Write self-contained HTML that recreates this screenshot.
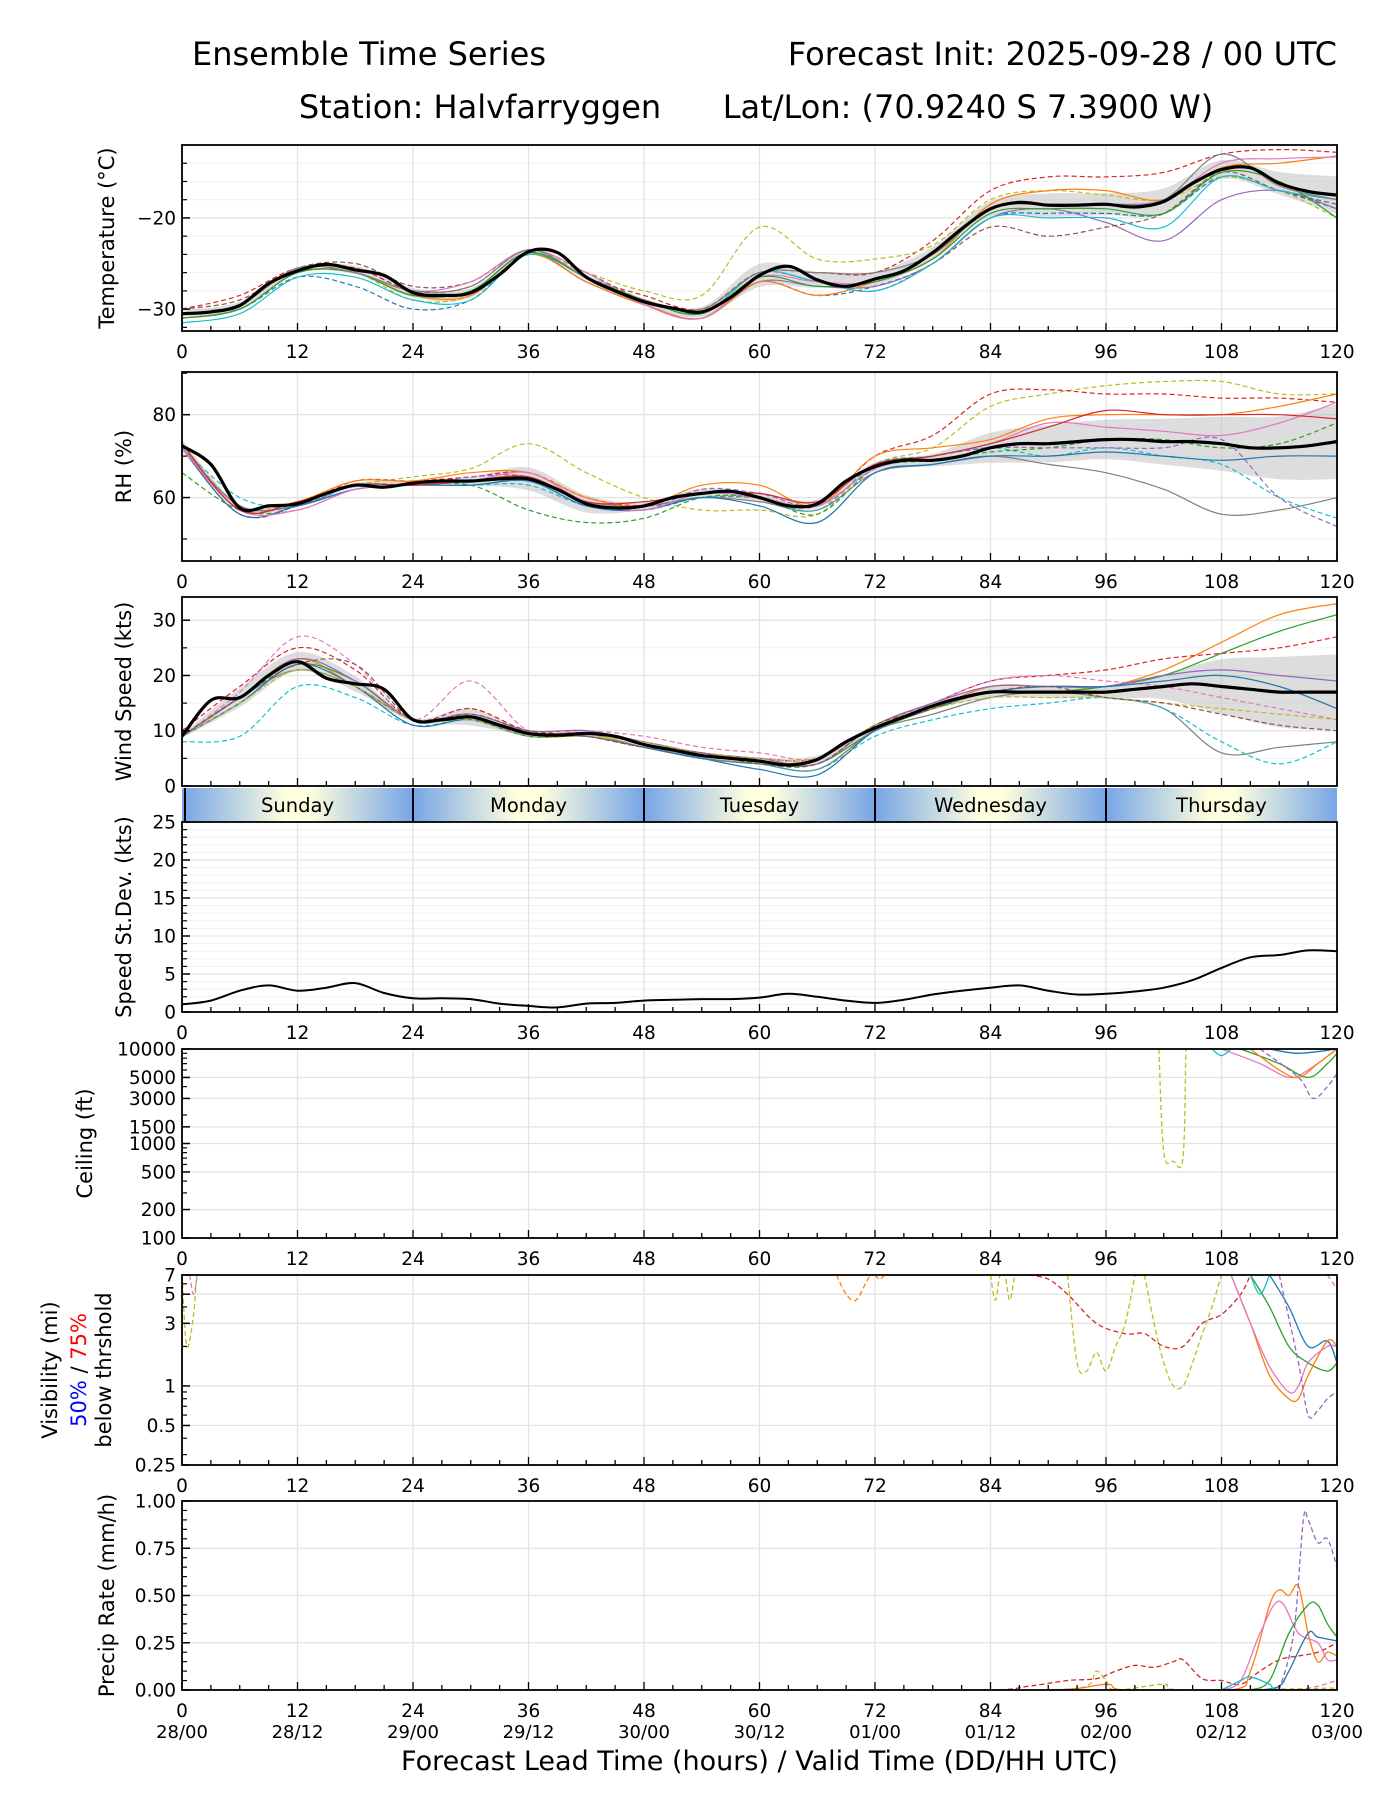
<!DOCTYPE html>
<html><head><meta charset="utf-8">
<style>
html,body{margin:0;padding:0;background:#fff;}
svg{display:block;font-family:"DejaVu Sans","Liberation Sans",sans-serif;}
</style></head>
<body>
<svg id="chart" width="1400" height="1800" viewBox="0 0 1400 1800" xmlns="http://www.w3.org/2000/svg">
<defs>
<linearGradient id="dayg" x1="0" x2="1" y1="0" y2="0">
<stop offset="0" stop-color="#76a5e6"/><stop offset="0.45" stop-color="#ffffde"/><stop offset="0.55" stop-color="#ffffde"/><stop offset="1" stop-color="#76a5e6"/>
</linearGradient>
</defs>
<text x="369" y="65" font-size="32" text-anchor="middle">Ensemble Time Series</text>
<text x="1337" y="65" font-size="32" text-anchor="end">Forecast Init: 2025-09-28 / 00 UTC</text>
<text x="480" y="118" font-size="32" text-anchor="middle">Station: Halvfarryggen</text>
<text x="968" y="118" font-size="32" text-anchor="middle">Lat/Lon: (70.9240 S 7.3900 W)</text>
<g id="plots"></g>
</svg>
<script>
// ---------- data ----------
const H3 = [0,3,6,9,12,15,18,21,24,27,30,33,36,39,42,45,48,51,54,57,60,63,66,69,72,75,78,81,84,87,90,93,96,99,102,105,108,111,114,117,120];
const H6 = [0,6,12,18,24,30,36,42,48,54,60,66,72,78,84,90,96,102,108,114,120];
const xTicks = [0,12,24,36,48,60,72,84,96,108,120];
const dateLabels = ["28/00","28/12","29/00","29/12","30/00","30/12","01/00","01/12","02/00","02/12","03/00"];
const dayNames = ["Sunday","Monday","Tuesday","Wednesday","Thursday"];

const tempMean = [-30.5,-30.3,-29.6,-27.2,-25.8,-25.1,-25.7,-26.3,-28.2,-28.5,-28.2,-26.2,-23.7,-23.8,-26.5,-28.0,-29.2,-29.9,-30.3,-28.7,-26.3,-25.3,-26.8,-27.5,-26.7,-25.8,-23.8,-21.2,-19.0,-18.3,-18.6,-18.6,-18.5,-18.8,-18.2,-16.2,-14.7,-14.5,-16.2,-17.1,-17.5];
const tempM1 = [-31,-30,-26.5,-27.5,-30,-29,-24,-27,-29.5,-31,-27,-28.5,-27.5,-25,-20,-19.5,-19.5,-19.5,-15.5,-17,-19];
const tempM2 = [-30,-28.5,-25.5,-25.5,-28,-27.5,-23.5,-26.5,-28.5,-30,-26,-26,-26,-22.5,-17,-15.5,-15.5,-15,-13,-12.5,-12.8];
const tempM3 = [-31,-30,-26,-26,-29,-28.5,-24,-26,-28,-28.5,-21,-24.5,-24.5,-23,-18,-17,-17.5,-18,-15.5,-17,-20];
const tempM4 = [-31,-30,-26,-26,-28.5,-28,-23.8,-27,-29.5,-31,-27,-27.5,-27.5,-25,-20,-19,-20.5,-22.5,-18,-17,-19];
const tempM5 = [-30,-29,-25.5,-25,-27.5,-27,-23.5,-26,-29,-30,-26,-27,-28,-25,-21,-22,-21,-19.5,-15,-17,-18.5];
const tempM6 = [-31,-30,-26,-26,-28.5,-28.5,-24,-27,-29.5,-31,-27,-28.5,-27,-24.5,-18.5,-17,-17,-18,-14.5,-14,-13.2];
const tempM7 = [-31.5,-30.5,-26.5,-26.5,-29,-29,-24,-26.5,-29,-30.5,-26,-27,-28,-25,-20,-20,-20,-21,-15.5,-17,-18];
const tempM8 = [-30.5,-29.5,-25.5,-26,-28,-27,-23.5,-26,-29.5,-31,-26.5,-27,-27,-24,-19,-18.5,-18.5,-18,-14,-13.5,-13.3];
const tempM9 = [-31,-30,-26,-26,-28.5,-28,-23.8,-26.5,-29,-30.5,-26.5,-27.5,-27,-24.5,-19.5,-19,-19,-19.5,-15,-16,-20];
const tempM10 = [-30.5,-29.5,-25.5,-26,-28,-27.5,-23.5,-26.5,-29,-30,-26,-26,-26,-24,-19,-18.5,-18.5,-18,-13,-16.5,-18];

const rhMean = [72.5,68,57.5,58,58.5,61,63,62.5,63.5,64,64,64.5,64.5,62,58.5,57.5,58,60,61,61.5,60,58,58.5,64,67.5,69,69,70,72,73,73,73.5,74,74,73.5,73.5,73,72,72,72.5,73.5];
const rhM1 = [73,58,59,63,65,67,73,66,60,57,57,56,68,72,82,85,87,88,88,85,85];
const rhM2 = [72,56,58,64,64,65,66,60,58,60,60,58,70,75,85,86,85,85,84,84,83];
const rhM3 = [72,58,58,62,63,63,64,59,58,60,59,57,66,68,70,68,66,62,56,57,60];
const rhM4 = [72,60,58,63,63,63,63,58,57,60,60,57,68,70,72,70,72,70,68,60,55];
const rhM5 = [73,57,59,64,64,66,66,60,58,63,63,58,70,72,74,79,80,80,80,82,85];
const rhM6 = [66,57,57,62,63,63,57,54,55,60,60,56,67,69,71,72,74,74,72,73,78];
const rhM7 = [72,58,58,63,63,65,65,59,57,62,61,58,67,70,72,72,72,72,74,60,53];
const rhM8 = [72,56,58,62,63,63,64,58,57,60,58,54,66,68,70,70,71,70,69,70,70];
const rhM9 = [72,57,57,62,63,64,66,59,57,61,60,58,67,70,73,78,77,76,75,78,83];
const rhM10 = [73,57,59,63,63,64,65,59,59,61,61,59,68,70,73,77,81,80,80,80,79];

const windMean = [9,15.5,16,20,22.5,19.5,18.5,17.5,12,12,12.5,11,9.5,9.2,9.5,9,7.5,6.5,5.5,5,4.5,3.8,4.8,8,10.5,12.5,14.5,16,17,17,17,17,17,17.5,18,18.5,18,17.5,17,17,17];
const windM1 = [9,16,23,18,12,12,9.5,9.5,7,5,4,3,10,14,18,18,18,21,26,31,33];
const windM2 = [9,15,22,19,12,12,9,9,7,5,4,4,10,14,17,17,18,20,24,28,31];
const windM3 = [9,16,21,18,12,12,9,9,7,5,4,3,10,13,16,17,16,14,6,7,8];
const windM4 = [8,9,18,16,11,12,9,9,7,6,4,3,9,12,14,15,16,14,8,4,8];
const windM5 = [10,18,25,21,12,14,10,10,8,6,5,5,11,15,19,20,21,23,24,25,27];
const windM6 = [9,17,27,22,12,19,10,10,9,7,6,5,11,15,19,20,19,18,16,14,12];
const windM7 = [9,16,23,19,12,13,10,10,8,6,5,4,11,15,18,18,18,20,21,20,19];
const windM8 = [9,15,22,18,11,12,9,9,7,5,3,2,10,14,17,18,18,19,20,18,14];
const windM9 = [9,15,21,18,12,12,9,9,8,6,5,5,11,14,16,16,16,15,14,13,12];
const windM10 = [9,16,22,22,12,13,10,9,7,6,4,4,11,14,17,18,16,15,13,11,10];

const sdevValues = [1,1.5,2.8,3.5,2.8,3.2,3.8,2.5,1.8,1.8,1.7,1.1,0.8,0.6,1.1,1.2,1.5,1.6,1.7,1.7,1.9,2.4,2,1.5,1.2,1.6,2.3,2.8,3.2,3.5,2.8,2.3,2.4,2.7,3.2,4.2,5.8,7.2,7.5,8.1,8.0];

const ceilOlive = [[101.5,10000],[102,800],[103,650],[104,700],[104.3,10000]];
const ceilPink = [[108,10000],[112,7000],[115,5000],[117,6000],[120,10000]];
const ceilGreen = [[110,10000],[114,7000],[117,5000],[119,7000],[120,9000]];
const ceilPurple = [[112,10000],[116,5000],[117.5,3000],[119,4000],[120,5500]];
const ceilBlue = [[113,10000],[116,9000],[120,10000]];
const ceilOrange = [[111,10000],[114,6000],[116,5000],[118,7000],[120,10000]];
const ceilCyan = [[107,10000],[108,8500],[109,10000]];

const visOliveA = [[0,7],[0.5,2],[1.2,3.5],[1.5,7]];
const visPinkA = [[0.8,7],[1.2,5],[1.6,7]];
const visOliveB = [[84,7],[84.5,4.5],[85,7],[85.5,7],[86,4.5],[86.5,7]];
const visOliveC = [[92,7],[93,1.5],[94,1.3],[95,1.8],[96,1.3],[97,2],[98,3],[99,7]];
const visOliveD = [[100,7],[101,3],[102,1.5],[103,1],[104,1],[105,1.5],[106,2.5],[107,4],[108,7]];
const visOrangeA = [[68,7],[69,5],[70,4.5],[71,6],[71.5,7]];
const visOrangeB = [[72,7],[72.5,6.5],[73,7]];
const visRed = [[88,7],[90,6.5],[92,5],[95,3],[98,2.5],[100,2.5],[102,2],[104,2],[106,3],[108,3.5],[110,5],[111,7]];
const visBlue = [[113,7],[115,4],[117,2],[119,2.2],[120,1.5]];
const visGreen = [[111,7],[113,4],[115,2],[117,1.5],[119,1.3],[120,1.5]];
const visOrange = [[109,7],[111,3],[113,1.2],[115,0.8],[116,0.8],[117,1.2],[119,2.2],[120,2]];
const visPink = [[109,7],[111,3],[113,1.4],[115,0.9],[116,1],[117,1.5],[119,2],[120,2]];
const visCyan = [[111,7],[112,5],[113,7]];
const visPurple = [[114,7],[116,1.5],[117,0.6],[118,0.65],[119,0.8],[120,0.9]];
const visPinkB = [[119,7],[120,5.5]];

const prRed = [[70,0],[84,0],[88,0.02],[92,0.05],[95,0.06],[97,0.1],[99,0.13],[101,0.12],[103,0.15],[104,0.16],[106,0.06],[108,0.05],[110,0.03],[112,0.1],[114,0.16],[116,0.18],[118,0.2],[120,0.25]];
const prOlive = [[90,0],[94,0.02],[95,0.1],[96,0.05],[97,0],[102,0.03],[104,0],[120,0.01]];
const prOrange = [[68,0],[90,0],[96,0.03],[98,0],[109,0],[111,0.1],[113,0.45],[114,0.53],[115,0.5],[116,0.55],[117,0.3],[118,0.15],[119,0.2],[120,0.18]];
const prPink = [[108,0],[110,0.05],[112,0.3],[114,0.47],[116,0.3],[118,0.25],[119,0.16],[120,0.16]];
const prPurple = [[114,0],[115.5,0.3],[116.5,0.9],[117,0.9],[118,0.78],[119,0.8],[120,0.65]];
const prGreen = [[111,0],[113,0.05],[115,0.3],[117,0.45],[118,0.45],[119,0.35],[120,0.28]];
const prBlue = [[112,0],[114,0.02],[115,0.1],[117,0.3],[118,0.28],[120,0.26]];
const prCyan = [[108,0],[110,0.05],[111,0.07],[113,0.03],[114,0],[120,0]];
const prPinkB = [[116,0],[118,0.02],[120,0.05]];

// ---------- rendering ----------
const NS = "http://www.w3.org/2000/svg";
const root = document.getElementById("plots");
const L = 182, R = 1337;
const C = {blue:"#1f77b4",orange:"#ff7f0e",green:"#2ca02c",red:"#d62728",purple:"#9467bd",brown:"#8c564b",pink:"#e377c2",gray:"#7f7f7f",olive:"#bcbd22",cyan:"#17becf"};
function xS(h){ return L + h/120*(R-L); }
function mk(tag, attrs, parent){
  const e = document.createElementNS(NS, tag);
  for (const k in attrs) e.setAttribute(k, attrs[k]);
  (parent||root).appendChild(e);
  return e;
}
function smoothPath(pts){
  if (pts.length<2) return "";
  let d = "M"+pts[0][0].toFixed(1)+","+pts[0][1].toFixed(1);
  for (let i=0;i<pts.length-1;i++){
    const p0=pts[Math.max(0,i-1)], p1=pts[i], p2=pts[i+1], p3=pts[Math.min(pts.length-1,i+2)];
    const c1x=p1[0]+(p2[0]-p0[0])/6, c1y=p1[1]+(p2[1]-p0[1])/6;
    const c2x=p2[0]-(p3[0]-p1[0])/6, c2y=p2[1]-(p3[1]-p1[1])/6;
    d += " C"+c1x.toFixed(1)+","+c1y.toFixed(1)+" "+c2x.toFixed(1)+","+c2y.toFixed(1)+" "+p2[0].toFixed(1)+","+p2[1].toFixed(1);
  }
  return d;
}
function panel(name, top, bot, yS, majors, majorLabels, minors, minorGrid, labelLines, noXLabels){
  const g = mk("g", {});
  
  
  const cp = mk("clipPath", {id:"clip-"+name}, g);
  mk("rect", {x:L, y:top, width:R-L, height:bot-top}, cp);
  (minorGrid||[]).forEach(v=>{ const y=yS(v); mk("line",{x1:L,x2:R,y1:y,y2:y,stroke:"#f0f0f0","stroke-width":1},g); });
  xTicks.forEach(h=>{ const x=xS(h); mk("line",{x1:x,x2:x,y1:top,y2:bot,stroke:"#e3e3e3","stroke-width":1.3},g); });
  majors.forEach(v=>{ const y=yS(v); mk("line",{x1:L,x2:R,y1:y,y2:y,stroke:"#e3e3e3","stroke-width":1.3},g); });
  const content = mk("g", {"clip-path":"url(#clip-"+name+")"}, g);
  for (let h=0; h<=120; h+=3){
    const x=xS(h), len = h%12===0?8:5;
    mk("line",{x1:x,x2:x,y1:bot,y2:bot-len,stroke:"#000","stroke-width":1.3},g);
  }
  (minors||[]).forEach(v=>{ const y=yS(v); mk("line",{x1:L,x2:L+5,y1:y,y2:y,stroke:"#000","stroke-width":1.2},g); });
  majors.forEach((v,i)=>{
    const y=yS(v);
    mk("line",{x1:L,x2:L+8,y1:y,y2:y,stroke:"#000","stroke-width":1.5},g);
    const t = mk("text",{x:L-6,y:y+6.5,"font-size":18.5,"text-anchor":"end"},g);
    t.textContent = majorLabels[i];
    
    
  });
  if (!noXLabels) xTicks.forEach(h=>{
    const t = mk("text",{x:xS(h),y:bot+27,"font-size":18.5,"text-anchor":"middle"},g);
    t.textContent = h;
    
    
  });
  const cy=(top+bot)/2;
  labelLines.forEach(ll=>{
    const t = mk("text",{x:0,y:0,"font-size":21,"text-anchor":"middle",transform:"translate("+ll.x+","+cy+") rotate(-90)"},g);
    if (ll.parts){ ll.parts.forEach(p=>{ const s=mk("tspan",{fill:p.c},t); s.textContent=p.t; }); }
    else t.textContent = ll.t;
    
    
  });
  return {g, content, frame:()=>mk("rect",{x:L,y:top,width:R-L,height:bot-top,fill:"none",stroke:"#000","stroke-width":1.8},g)};
}
function drawSeries(parent, hours, vals, yS, color, dashed, width, sname){
  const pts = hours.map((h,i)=>[xS(h), yS(vals[i])]);
  const p = mk("path",{d:smoothPath(pts),fill:"none",stroke:color,"stroke-width":width||1.3,"stroke-dasharray":dashed?"5,3":"none","stroke-linejoin":"round"},parent);
  
  
  return p;
}
function drawPairs(parent, pairs, yS, color, dashed, sname){
  const pts = pairs.map(p=>[xS(p[0]), yS(p[1])]);
  const p = mk("path",{d:smoothPath(pts),fill:"none",stroke:color,"stroke-width":1.3,"stroke-dasharray":dashed?"5,3":"none"},parent);
  
  
}
function ensemble(name, content, yS, mean, members, styles){
  const lo=[], hi=[];
  H6.forEach((h,j)=>{
    const vals = members.map(m=>m[j]);
    const mu = vals.reduce((a,b)=>a+b,0)/vals.length;
    const sd = 0.75*Math.sqrt(vals.reduce((a,b)=>a+(b-mu)*(b-mu),0)/vals.length);
    const mi = H3.indexOf(h);
    lo.push([xS(h), yS(mean[mi]-sd)]); hi.push([xS(h), yS(mean[mi]+sd)]);
  });
  const band = mk("path",{d:smoothPath(hi)+" L"+smoothPath(lo.slice().reverse()).slice(1)+" Z",fill:"#bbbbbb","fill-opacity":0.5,stroke:"none"},content);
  
  
  members.forEach((m,i)=>{
    drawSeries(content, H6, m, yS, styles[i][0], styles[i][1], 1.2, name+'-member-'+(i+1));
  });
  drawSeries(content, H3, mean, yS, "#000", false, 3.2, name+'-ensemble-mean');
}
const styles = [[C.blue,true],[C.red,true],[C.olive,true],[C.purple,false],[C.brown,true],[C.orange,false],[C.cyan,false],[C.pink,false],[C.green,false],[C.gray,false]];

// Temperature
{
  const top=145,bot=331, y0=-32.4,y1=-12.0;
  const yS=v=>bot-(v-y0)/(y1-y0)*(bot-top);
  const minors=[-32,-28,-26,-24,-22,-18,-16,-14];
  const p=panel("temperature",top,bot,yS,[-20,-30],["\u221220","\u221230"],minors,minors,[{x:114,t:"Temperature (\u00b0C)"}]);
  ensemble("temperature",p.content,yS,tempMean,[tempM1,tempM2,tempM3,tempM4,tempM5,tempM6,tempM7,tempM8,tempM9,tempM10],styles);
  p.frame();
}
// RH
{
  const top=372,bot=561,y0=44.7,y1=90.3;
  const yS=v=>bot-(v-y0)/(y1-y0)*(bot-top);
  const minors=[50,70,90];
  const p=panel("rh",top,bot,yS,[60,80],["60","80"],minors,minors,[{x:131,t:"RH (%)"}]);
  const rs=[[C.olive,true],[C.red,true],[C.gray,false],[C.cyan,true],[C.orange,false],[C.green,true],[C.purple,true],[C.blue,false],[C.pink,false],[C.red,false]];
  ensemble("rh",p.content,yS,rhMean,[rhM1,rhM2,rhM3,rhM4,rhM5,rhM6,rhM7,rhM8,rhM9,rhM10],rs);
  p.frame();
}
// Wind
{
  const top=597,bot=786,y0=0,y1=34.2;
  const yS=v=>bot-(v-y0)/(y1-y0)*(bot-top);
  const minors=[5,15,25];
  const p=panel("wind",top,bot,yS,[0,10,20,30],["0","10","20","30"],minors,minors,[{x:131,t:"Wind Speed (kts)"}],true);
  const ws=[[C.orange,false],[C.green,false],[C.gray,false],[C.cyan,true],[C.red,true],[C.pink,true],[C.purple,false],[C.blue,false],[C.olive,true],[C.brown,true]];
  ensemble("wind",p.content,yS,windMean,[windM1,windM2,windM3,windM4,windM5,windM6,windM7,windM8,windM9,windM10],ws);
  p.frame();
}
// Day band
{
  const top=788,bot=822;
  const g=mk("g",{});
  
  
  dayNames.forEach((d,i)=>{
    const x0=xS(i*24), x1=xS((i+1)*24);
    const r=mk("rect",{x:x0,y:top,width:x1-x0,height:bot-top,fill:"url(#dayg)"},g);
    
    
    if(i>0) mk("line",{x1:x0,x2:x0,y1:top,y2:bot,stroke:"#000","stroke-width":2},g);
    const t=mk("text",{x:(x0+x1)/2,y:top+24,"font-size":19.5,"text-anchor":"middle"},g);
    t.textContent=d;
    
    
  });
  mk("line",{x1:L+3,x2:L+3,y1:top,y2:bot,stroke:"#000","stroke-width":2},g);
}
// StDev
{
  const top=822,bot=1012,y0=0,y1=25;
  const yS=v=>bot-(v-y0)/(y1-y0)*(bot-top);
  const minors=[]; for(let v=1;v<25;v++) if(v%5) minors.push(v);
  const p=panel("stdev",top,bot,yS,[0,5,10,15,20,25],["0","5","10","15","20","25"],minors,minors,[{x:131,t:"Speed St.Dev. (kts)"}]);
  drawSeries(p.content,H3,sdevValues,yS,"#000",false,2,"stdev-line");
  p.frame();
}
// Ceiling
{
  const top=1049,bot=1238,l0=Math.log10(100),l1=Math.log10(10000);
  const yS=v=>bot-(Math.log10(v)-l0)/(l1-l0)*(bot-top);
  const maj=[100,200,500,1000,1500,3000,5000,10000];
  const minors=[300,400,600,700,800,900,2000,4000,6000,7000,8000,9000];
  const p=panel("ceiling",top,bot,yS,maj,maj.map(String),minors,[],[{x:92,t:"Ceiling (ft)"}]);
  drawPairs(p.content,ceilOlive,yS,C.olive,true,"ceiling-member-olive");
  drawPairs(p.content,ceilPink,yS,C.pink,false,"ceiling-member-pink");
  drawPairs(p.content,ceilGreen,yS,C.green,false,"ceiling-member-green");
  drawPairs(p.content,ceilPurple,yS,C.purple,true,"ceiling-member-purple");
  drawPairs(p.content,ceilBlue,yS,C.blue,false,"ceiling-member-blue");
  drawPairs(p.content,ceilOrange,yS,C.orange,false,"ceiling-member-orange");
  drawPairs(p.content,ceilCyan,yS,C.cyan,false,"ceiling-member-cyan");
  p.frame();
}
// Visibility
{
  const top=1275,bot=1465,l0=Math.log10(0.25),l1=Math.log10(7);
  const yS=v=>bot-(Math.log10(v)-l0)/(l1-l0)*(bot-top);
  const maj=[0.25,0.5,1,3,5,7];
  const minors=[0.3,0.4,0.6,0.7,0.8,0.9,2,4,6];
  const p=panel("visibility",top,bot,yS,maj,["0.25","0.5","1","3","5","7"],minors,[],[
    {x:57,t:"Visibility (mi)"},
    {x:86,parts:[{t:"50%",c:"#0000ff"},{t:" / ",c:"#000"},{t:"75%",c:"#ff0000"}]},
    {x:111,t:"below thrshold"}]);
  [[visOliveA,C.olive,true],[visPinkA,C.pink,true],[visOliveB,C.olive,true],[visOliveC,C.olive,true],[visOliveD,C.olive,true],[visOrangeA,C.orange,true],[visOrangeB,C.orange,true],[visRed,C.red,true],[visBlue,C.blue,false],[visGreen,C.green,false],[visOrange,C.orange,false],[visPink,C.pink,false],[visCyan,C.cyan,false],[visPurple,C.purple,true],[visPinkB,C.pink,true]].forEach((s,i)=>{
    drawPairs(p.content,s[0],yS,s[1],s[2],"visibility-member-"+(i+1));
  });
  p.frame();
}
// Precip
{
  const top=1501,bot=1690,y0=0,y1=1;
  const yS=v=>bot-(v-y0)/(y1-y0)*(bot-top);
  const minors=[]; for(let v=0.05;v<1;v+=0.05){ const r=Math.round(v*100)/100; if(Math.round(r*100)%25) minors.push(r); }
  const p=panel("precip",top,bot,yS,[0,0.25,0.5,0.75,1],["0.00","0.25","0.50","0.75","1.00"],minors,[],[{x:114,t:"Precip Rate (mm/h)"}]);
  [[prRed,C.red,true],[prOlive,C.olive,true],[prOrange,C.orange,false],[prPink,C.pink,false],[prPurple,C.purple,true],[prGreen,C.green,false],[prBlue,C.blue,false],[prCyan,C.cyan,false],[prPinkB,C.pink,true]].forEach((s,i)=>{
    drawPairs(p.content,s[0],yS,s[1],s[2],"precip-member-"+(i+1));
  });
  p.frame();
  xTicks.forEach((h,i)=>{
    const t=mk("text",{x:xS(h),y:bot+48,"font-size":18,"text-anchor":"middle"});
    t.textContent=dateLabels[i];
    
    
  });
  const xl=mk("text",{x:(L+R)/2,y:bot+80,"font-size":27,"text-anchor":"middle"});
  xl.textContent="Forecast Lead Time (hours) / Valid Time (DD/HH UTC)";
  
  
}
</script>
</body></html>
